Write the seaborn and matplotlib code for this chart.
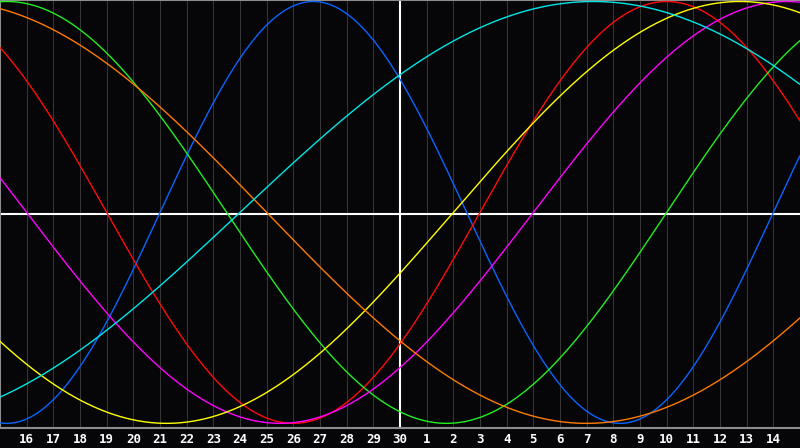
import numpy as np
import pandas as pd
import matplotlib
matplotlib.use("Agg")
import matplotlib.pyplot as plt
import seaborn as sns

# ---- data ----
day_labels = [str(d) for d in range(16, 31)] + [str(d) for d in range(1, 15)]
span_days = 30          # chart covers 30 days, label "16" at day index 1
today_index = 15        # white vertical line (label "30")

cycle_names = ["Physical", "Emotional", "Intellectual", "Intuitive",
               "Aesthetic", "Awareness", "Spiritual"]
cycle_periods = [23, 28, 33, 38, 43, 48, 53]
# day index at which each cycle rises through zero
cycle_rising_day = [6, 18, 25, 20, 17, -14, 9]

palette = {
    "Physical": "#0a64ff",
    "Emotional": "#ff0a0a",
    "Intellectual": "#22ee22",
    "Intuitive": "#ff00ff",
    "Aesthetic": "#ffff00",
    "Awareness": "#ff7a00",
    "Spiritual": "#00e6e6",
}

# ---- build long-form table ----
days = np.linspace(0, span_days, 1201)
rows = []
for name, per, r0 in zip(cycle_names, cycle_periods, cycle_rising_day):
    vals = np.sin(2 * np.pi * (days - r0) / per)
    rows.append(pd.DataFrame({"day": days, "value": vals, "cycle": name}))
df = pd.concat(rows, ignore_index=True)

# ---- figure ----
sns.set_style("dark")
bg = "#060609"
fig = plt.figure(figsize=(8.0, 4.48), dpi=100, facecolor=bg)
ax = fig.add_axes([0.0, 20 / 448, 1.0, 428 / 448])
ax.set_facecolor(bg)

tick_pos = list(range(1, len(day_labels) + 1))
ax.set_xticks(tick_pos)
ax.set_xticklabels(day_labels)
ax.set_yticks([])
ax.grid(False)
for t in tick_pos:
    if t != today_index:
        ax.axvline(t, color="#363636", lw=0.75, zorder=1)

ax.axvline(today_index, color="white", lw=1.5, zorder=2)
ax.plot([0, 1], [0.5, 0.5], transform=ax.transAxes, color="white", lw=1.5, zorder=2)

sns.lineplot(data=df, x="day", y="value", hue="cycle", palette=palette,
             hue_order=cycle_names, linewidth=1.0, legend=False, ax=ax,
             zorder=3, sort=False, estimator=None)

ax.set_xlim(0, span_days)
ax.set_ylim(-1.022, 1.007)
ax.set_xlabel("")
ax.set_ylabel("")

for side in ["left", "top", "bottom"]:
    ax.spines[side].set_visible(True)
    ax.spines[side].set_color("#8c8c8c")
    ax.spines[side].set_linewidth(1.5)
ax.spines["right"].set_visible(False)

ax.tick_params(axis="x", length=0, pad=3.5, colors="white")
for lab in ax.get_xticklabels():
    lab.set_fontfamily("DejaVu Sans Mono")
    lab.set_fontweight("bold")
    lab.set_fontsize(9)
    lab.set_color("white")

fig.savefig("out.png", dpi=100, facecolor=bg)
